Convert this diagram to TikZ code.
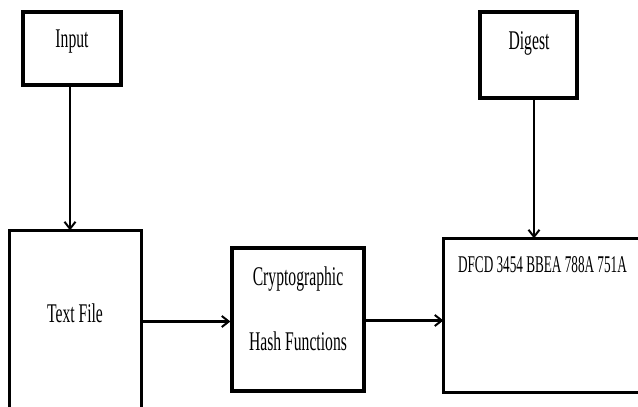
\documentclass[tikz,border=0pt]{standalone}
\usepackage{fontspec}
\setmainfont{Liberation Serif}
\usetikzlibrary{arrows.meta}
\begin{document}
\begin{tikzpicture}[x=1pt,y=-1pt,
  box/.style={draw=black,line width=3.2pt,fill=none,inner sep=0pt},
  edge/.style={draw=black,line width=3.2pt},
  lbl/.style={inner sep=0pt,font=\fontsize{27}{30}\selectfont,xscale=0.58},
  hashlbl/.style={inner sep=0pt,font=\fontsize{24}{27}\selectfont,xscale=0.55,anchor=west},
  conn/.style={line width=2.4pt,-{Straight Barb[length=7pt,width=11pt,line width=2pt]}}
]
\useasboundingbox (0,0) rectangle (638,407);
\fill[white] (0,0) rectangle (638,407);
% boxes
\node[box,minimum width=98pt,minimum height=73pt] (input) at (72,48.5) {};
\node[box,draw=none,minimum width=129pt,minimum height=175pt] (textfile) at (75.5,319.5) {};
\draw[edge] (textfile.south west) -- (textfile.north west) -- (textfile.north east) -- (textfile.south east);
\node[box,minimum width=132pt,minimum height=143pt] (crypto) at (298,319.5) {};
\node[box,draw=none,minimum width=193pt,minimum height=151pt] (value) at (541.5,315.5) {};
\draw[edge] (value.north east) -- (value.north west) -- (value.south west) -- (value.south east);
\node[box,minimum width=97pt,minimum height=86pt] (digest) at (528.5,55) {};
% labels
\node[lbl] (inputlbl) at (72,42) {Input};
\node[lbl] (digestlbl) at (529,43) {Digest};
\node[lbl] (textlbl) at (75,313) {Text File};
\node[lbl] (cryptolbl1) at (298,279) {Cryptographic};
\node[lbl] (cryptolbl2) at (298,341) {Hash Functions};
\node[hashlbl] (hashlbl) at (458,265) {DFCD 3454 BBEA 788A 751A};
% connectors
\draw[conn,line width=2pt] ([xshift=-2pt]input.south) -- ([xshift=-2pt]input.south |- textfile.north);
\draw[conn,line width=1.8pt] ([xshift=5.5pt]digest.south) -- ([xshift=5.5pt]digest.south |- value.north);
\draw[conn] ([yshift=-2pt]crypto.west -| textfile.east) -- ([yshift=-2pt]crypto.west);
\draw[conn] ([yshift=-1pt]crypto.east) -- ([yshift=-1pt]crypto.east -| value.west);
\end{tikzpicture}
\end{document}
